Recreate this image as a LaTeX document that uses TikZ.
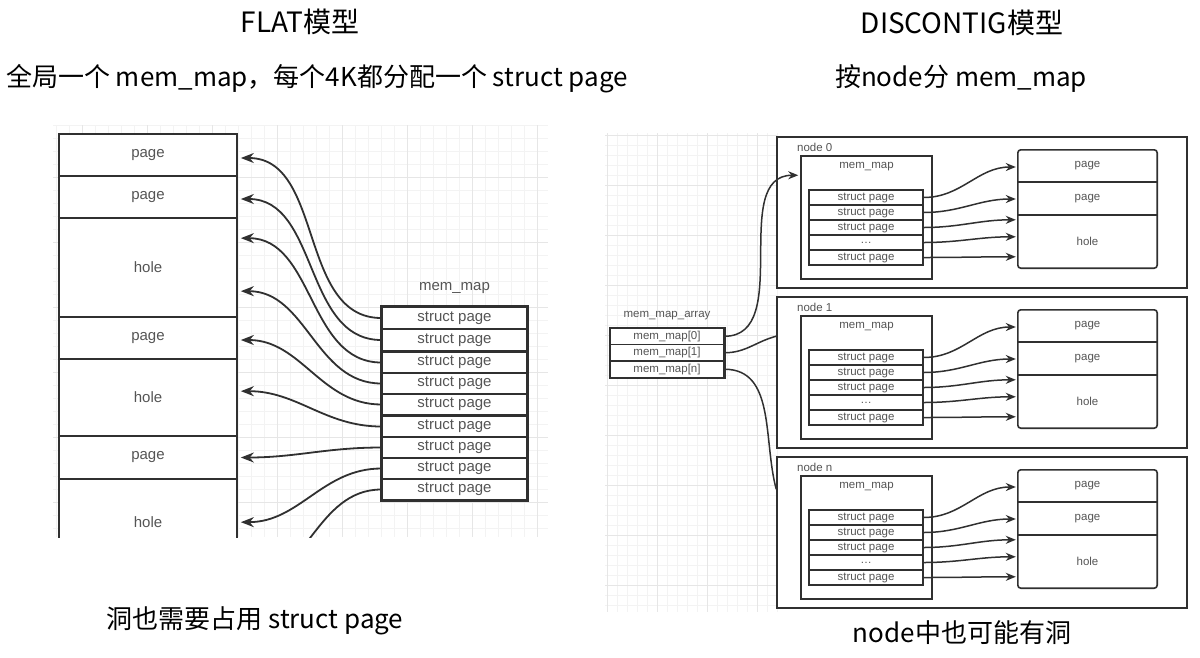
\documentclass[tikz,border=0pt]{standalone}
\usepackage{fontspec}
\setmainfont{Liberation Sans}
\newfontfamily\cjk{Noto Sans CJK SC}
\usetikzlibrary{arrows.meta,calc}
\definecolor{linec}{HTML}{303030}
\definecolor{textc}{HTML}{555555}
\definecolor{gridmin}{HTML}{F3F3F3}
\definecolor{gridmaj}{HTML}{E6E6E6}

\begin{document}
\begin{tikzpicture}
[
x=1pt,y=1pt,
title/.style={font=\cjk\fontsize{28}{32}\selectfont,anchor=base,inner sep=0},
subtitle/.style={font=\cjk\fontsize{26}{30}\selectfont,anchor=base,inner sep=0},
note/.style={font=\cjk\fontsize{26}{30}\selectfont,anchor=base,inner sep=0},
cell/.style={draw=linec,line width=1.7,fill=white,minimum width=178,minimum height=#1,inner sep=0,text=textc,font=\fontsize{15}{18}\selectfont},
spage/.style={draw=linec,line width=1.4,fill=white,minimum width=145,minimum height=#1,inner sep=0,text=textc,font=\fontsize{15}{18}\selectfont},
spage/.default=21,
grp/.style={draw=linec,line width=2},
ptr/.style={draw=linec,line width=1.8,-{Stealth[length=13,width=10]}},
lbl/.style={text=textc,font=\fontsize{11.5}{13}\selectfont,inner sep=0},
nodebox/.style={draw=linec,line width=1.6,fill=white,minimum width=410,minimum height=151,inner sep=0},
mapbox/.style={draw=linec,line width=1.5,fill=white,minimum width=131,minimum height=123,inner sep=0},
srow/.style={draw=linec,line width=1.2,fill=white,minimum width=114,minimum height=#1,inner sep=0,text=textc,font=\fontsize{11.5}{13}\selectfont},
srow/.default=15,
pgrow/.style={minimum width=139,minimum height=#1,inner sep=0,text=textc,font=\fontsize{11.5}{13}\selectfont},
sptr/.style={draw=linec,line width=1.5,-{Stealth[length=10,width=8]}},
link/.style={draw=linec,line width=1.5},
]

\fill[white] (0,0) rectangle (1200,-657);
\useasboundingbox (0,0) rectangle (1200,-657);

%Background grids
\foreach \x in {56,69,...,549} \draw[gridmin,line width=0.6] (\x,-125) -- (\x,-537);
\foreach \y in {125,138,...,528} \draw[gridmin,line width=0.6] (53,-\y) -- (548,-\y);
\foreach \x in {82,147,...,537} \draw[gridmaj,line width=0.7] (\x,-125) -- (\x,-537);
\foreach \y in {177,242,...,502} \draw[gridmaj,line width=0.7] (53,-\y) -- (548,-\y);
\foreach \x in {607,617,...,777} \draw[gridmin,line width=0.6] (\x,-133) -- (\x,-612);
\foreach \y in {135,145,...,605} \draw[gridmin,line width=0.6] (605,-\y) -- (777,-\y);
\foreach \x in {607,657,...,757} \draw[gridmaj,line width=0.7] (\x,-133) -- (\x,-612);
\foreach \y in {135,185,...,585} \draw[gridmaj,line width=0.7] (605,-\y) -- (777,-\y);

%Titles
\node[title] (flat) at (300,-32) {FLAT模型};
\node[subtitle] (flatsub) at (317,-86) {全局一个 mem\_map，每个4K都分配一个 struct page};
\node[note] (flatnote) at (255,-628) {洞也需要占用 struct page};
\node[title] (disc) at (962,-33) {DISCONTIG模型};
\node[subtitle] (discsub) at (961,-86) {按node分 mem\_map};
\node[note] (discnote) at (962,-642) {node中也可能有洞};

%FLAT: physical memory and mem_map
\begin{scope}
\clip (0,-100) rectangle (600,-537);
\node[cell=42] (p1) at (148,-155) {page};
\node[cell=42] (p2) at (148,-197) {page};
\node[cell=99] (h1) at (148,-267.5) {hole};
\node[cell=42] (p3) at (148,-338) {page};
\node[cell=77] (h2) at (148,-397.5) {hole};
\node[cell=43] (p4) at (148,-457.5) {page};
\node[cell=87] (h3) at (148,-522.5) {hole};

\node[text=textc,font=\fontsize{15}{18}\selectfont,inner sep=0] (mmap) at (454.5,-288) {mem\_map};
\foreach \i/\y in {1/318,2/340}
  \node[spage=22] (s\i) at (454.5,-\y) {struct page};
\foreach \i/\y in {3/362.5,4/383.5,5/404.5,6/426.5,7/447.5,8/468.5,9/489.5}
  \node[spage] (s\i) at (454.5,-\y) {struct page};
\draw[grp] (s1.north west) rectangle (s2.south east);
\draw[grp] (s3.north west) rectangle (s5.south east);
\draw[grp] (s6.north west) rectangle (s9.south east);

\coordinate (t1) at ($(p1.east)+(3,-3)$);
\coordinate (t2) at ($(p2.east)+(3,-2)$);
\coordinate (t3) at ($(h1.north east)+(3,-21)$);
\coordinate (t4) at ($(h1.north east)+(3,-74)$);
\coordinate (t5) at ($(p3.east)+(3,-2)$);
\coordinate (t6) at ($(h2.north east)+(3,-33)$);
\coordinate (t7) at ($(p4.east)+(3,0)$);
\coordinate (t8) at ($(h3.north east)+(3,-44)$);
\coordinate (t9) at ($(h3.north east)+(3,-103)$);
%Draw the connections
\foreach \i in {1,...,9}
  \draw[ptr] (s\i.west) to[out=180,in=0] (t\i);
\end{scope}

%DISCONTIG: mem_map_array
\node[lbl] (arrlbl) at (667,-316) {mem\_map\_array};
\foreach \k/\y in {0/336.25,1/352.75,n/369.25}
  \node[srow=16.5] (ma\k) at (667,-\y) {mem\_map[\k]};
\draw[grp,line width=1.8] (ma0.north west) rectangle (man.south east);

%DISCONTIG: one box per node
\foreach \k/\dy in {0/0,1/160,n/320}
{
  \node[nodebox] (nd\k) at (982,-212.5-\dy) {};
  \node[lbl,anchor=west] (ndl\k) at (797,-147-\dy) {node \k};
  \node[mapbox] (mm\k) at (866.5,-217.5-\dy) {};
  \node[lbl] (mml\k) at (866.5,-167-\dy) {mem\_map};
  \foreach \i/\t in {1/struct page,2/struct page,3/struct page,4/\ldots,5/struct page}
    \node[srow] (sp\k-\i) at (866,-182.5-15*\i-\dy) {\t};
  \draw[grp,line width=1.7] (sp\k-1.north west) rectangle (sp\k-5.south east);
  \node[pgrow=32] (pg\k-1) at (1087.5,-166-\dy) {page};
  \node[pgrow=33] (pg\k-2) at (1087.5,-198.5-\dy) {page};
  \node[pgrow=53] (pg\k-3) at (1087.5,-241.5-\dy) {hole};
  \draw[draw=linec,line width=1.6,rounded corners=3] (pg\k-1.north west) rectangle (pg\k-3.south east);
  \draw[draw=linec,line width=1.5] (pg\k-1.south west) -- (pg\k-1.south east);
  \draw[draw=linec,line width=1.5] (pg\k-2.south west) -- (pg\k-2.south east);
  \draw[sptr] (sp\k-1.east) to[out=0,in=180] ($(pg\k-1.west)+(-2,-1)$);
  \draw[sptr] (sp\k-2.east) to[out=0,in=180] ($(pg\k-2.west)+(-2,-0.5)$);
  \draw[sptr] (sp\k-3.east) to[out=0,in=180] ($(pg\k-3.north west)+(-2,-5)$);
  \draw[sptr] (sp\k-4.east) to[out=0,in=180] ($(pg\k-3.north west)+(-2,-22)$);
  \draw[sptr] (sp\k-5.east) to[out=0,in=180] ($(pg\k-3.north west)+(-2,-42)$);
}

%Draw the connections from mem_map_array
\draw[sptr] (ma0.east) to[out=0,in=180] ($(mm0.north west)+(-2,-20)$);
\draw[link] (ma1.east) to[out=0,in=195] ($(nd1.north west)+(0,-40)$);
\draw[link] (man.east) to[out=0,in=105] ($(ndn.north west)+(0,-33)$);
\end{tikzpicture}
\end{document}
